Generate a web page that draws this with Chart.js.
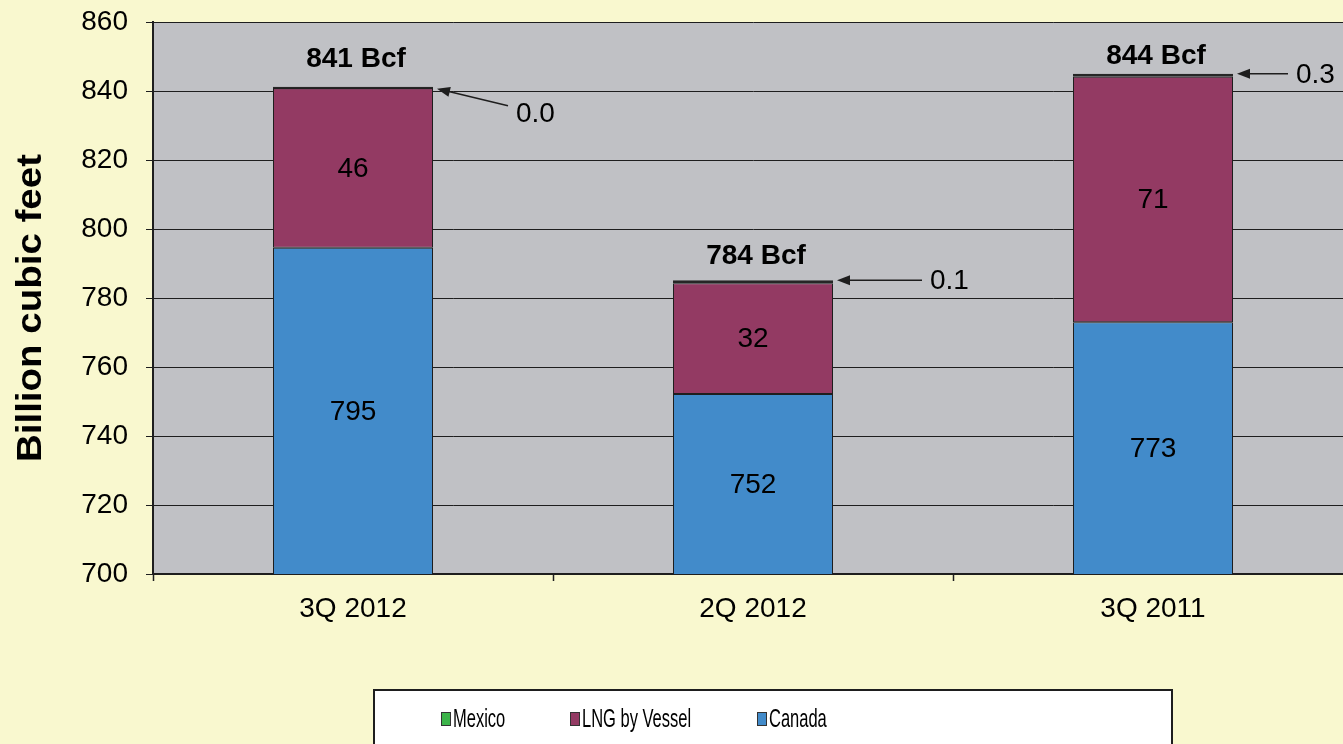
<!DOCTYPE html>
<html>
<head>
<meta charset="utf-8">
<script src="https://cdn.jsdelivr.net/npm/chart.js@4.4.1/dist/chart.umd.min.js"></script>
<style>
    html, body { margin: 0; padding: 0; overflow: hidden; background: #f9f8cf; }
    #wrap { width: 1353px; height: 744px; }
</style>
</head>
<body>
<div id="wrap"><canvas id="supplyChart" width="1353" height="744"></canvas></div>
<script>
// Datos (Bcf)
const categories = ['3Q 2012', '2Q 2012', '3Q 2011'];
const canada = [794.6, 752.2, 773.0];
const lngByVessel = [46.2, 32.1, 71.1];
const mexico = [0.0, 0.1, 0.3];
const yTicks = [700, 720, 740, 760, 780, 800, 820, 840, 860];

const FONT = '"Liberation Sans", Arial, sans-serif';
const INK = '#1e1e1e';

// Flechas de las etiquetas de México (desplazamiento desde la esquina del bar)
// y separación de la etiqueta del total
const mexicoCallouts = [
    { dx: 75, dy: 19, ty: 8, totalGap: 27 },
    { dx: 89, dy: 0, ty: 0, totalGap: 24 },
    { dx: 55, dy: 0, ty: 0, totalGap: 18 }
];

const legendItems = [
    { label: 'Mexico', color: '#3cb44a', x: 441 },
    { label: 'LNG by Vessel', color: '#933a63', x: 570 },
    { label: 'Canada', color: '#428bca', x: 757 }
];

const backgroundPlugin = {
    id: 'background',
    beforeDraw(chart) {
        const { ctx, chartArea: a } = chart;
        ctx.save();
        ctx.fillStyle = '#f9f8cf';
        ctx.fillRect(0, 0, chart.width, chart.height);
        ctx.fillStyle = '#c0c1c5';
        ctx.fillRect(a.left, a.top, a.right - a.left, a.bottom - a.top);
        ctx.restore();
    }
};

const labelsPlugin = {
    id: 'barLabels',
    afterDatasetsDraw(chart) {
        const ctx = chart.ctx;
        const bottom = chart.chartArea.bottom;
        ctx.save();
        ctx.fillStyle = '#000';
        ctx.textAlign = 'center';
        ctx.textBaseline = 'middle';
        ctx.font = '28px ' + FONT;
        [0, 1].forEach(di => {
            chart.getDatasetMeta(di).data.forEach((bar, i) => {
                const v = chart.data.datasets[di].data[i];
                const base = Math.min(bar.base, bottom);
                ctx.fillText(Math.round(v), bar.x, (bar.y + base) / 2 + 1);
            });
        });

        const top = chart.getDatasetMeta(2).data;
        top.forEach((bar, i) => {
            const c = mexicoCallouts[i];
            // total arriba
            const total = canada[i] + lngByVessel[i] + mexico[i];
            ctx.font = 'bold 28px ' + FONT;
            ctx.textAlign = 'center';
            ctx.fillText(Math.round(total) + ' Bcf', bar.x + 3, bar.y - c.totalGap);

            // flecha con valor de México
            const tipX = bar.x + bar.width / 2 + 4;
            const tipY = bar.y + (c.dy ? 2 : 0);
            const endX = bar.x + bar.width / 2 + c.dx;
            const endY = bar.y + c.dy;
            const ang = Math.atan2(tipY - endY, tipX - endX);
            ctx.strokeStyle = INK;
            ctx.lineWidth = 1.5;
            ctx.beginPath();
            ctx.moveTo(endX, endY);
            ctx.lineTo(tipX - 10 * Math.cos(ang), tipY - 10 * Math.sin(ang));
            ctx.stroke();
            ctx.fillStyle = INK;
            ctx.beginPath();
            ctx.moveTo(tipX, tipY);
            ctx.lineTo(tipX - 13 * Math.cos(ang) + 5 * Math.sin(ang), tipY - 13 * Math.sin(ang) - 5 * Math.cos(ang));
            ctx.lineTo(tipX - 13 * Math.cos(ang) - 5 * Math.sin(ang), tipY - 13 * Math.sin(ang) + 5 * Math.cos(ang));
            ctx.closePath();
            ctx.fill();
            ctx.fillStyle = '#000';
            ctx.font = '28px ' + FONT;
            ctx.textAlign = 'left';
            ctx.fillText(mexico[i].toFixed(1), endX + 8, endY + c.ty + 1);
        });
        ctx.restore();
    },
    afterDraw(chart) {
        const ctx = chart.ctx;
        ctx.save();
        // título del eje Y
        ctx.translate(31, 308);
        ctx.rotate(-Math.PI / 2);
        ctx.scale(1.1, 1);
        ctx.font = 'bold 35px ' + FONT;
        ctx.fillStyle = '#000';
        ctx.textAlign = 'center';
        ctx.textBaseline = 'middle';
        ctx.fillText('Billion cubic feet', 0, 0);
        ctx.restore();

        // leyenda en caja
        ctx.save();
        ctx.fillStyle = '#fff';
        ctx.fillRect(373, 689, 800, 80);
        ctx.strokeStyle = INK;
        ctx.lineWidth = 2;
        ctx.strokeRect(374, 690, 798, 80);
        legendItems.forEach(item => {
            ctx.fillStyle = item.color;
            ctx.fillRect(item.x, 712, 10, 14);
            ctx.strokeStyle = '#333';
            ctx.lineWidth = 1;
            ctx.strokeRect(item.x + 0.5, 712.5, 9, 13);
            ctx.save();
            ctx.translate(item.x + 12, 720);
            ctx.scale(0.66, 1);
            ctx.font = '25px ' + FONT;
            ctx.fillStyle = '#000';
            ctx.textBaseline = 'middle';
            ctx.fillText(item.label, 0, 0);
            ctx.restore();
        });
        ctx.restore();
    }
};

const ctx = document.getElementById('supplyChart').getContext('2d');
new Chart(ctx, {
    type: 'bar',
    data: {
        labels: categories,
        datasets: [
            {
                label: 'Canada',
                data: canada,
                backgroundColor: '#428bca',
                borderColor: INK,
                borderWidth: 1,
                borderSkipped: false
            },
            {
                label: 'LNG by Vessel',
                data: lngByVessel,
                backgroundColor: '#933a63',
                borderColor: INK,
                borderWidth: 1,
                borderSkipped: false
            },
            {
                label: 'Mexico',
                data: mexico,
                backgroundColor: '#3cb44a',
                borderColor: '#262626',
                borderWidth: 1.5,
                borderSkipped: false,
                minBarLength: 3
            }
        ]
    },
    options: {
        responsive: false,
        animation: false,
        datasets: {
            bar: {
                barPercentage: 1,
                categoryPercentage: 0.4
            }
        },
        layout: {
            padding: { top: 22, left: 0, right: 0, bottom: 0 }
        },
        plugins: {
            legend: { display: false },
            tooltip: { enabled: false }
        },
        scales: {
            x: {
                stacked: true,
                afterFit: (scale) => {
                    scale.height = 170;
                    scale.paddingLeft = 0;
                    scale.paddingRight = 0;
                },
                grid: {
                    offset: true,
                    drawOnChartArea: false,
                    tickLength: 7,
                    tickColor: INK,
                    tickWidth: 1.5
                },
                border: { color: INK, width: 2 },
                ticks: {
                    color: '#000',
                    padding: 11,
                    font: { family: FONT, size: 28 }
                }
            },
            y: {
                stacked: true,
                min: yTicks[0],
                max: yTicks[yTicks.length - 1],
                afterFit: (scale) => {
                    scale.width = 153;
                    scale.paddingTop = 0;
                    scale.paddingBottom = 0;
                },
                afterBuildTicks: (scale) => {
                    scale.ticks = yTicks.map(v => ({ value: v }));
                },
                grid: {
                    color: INK,
                    lineWidth: 1,
                    tickLength: 7,
                    tickColor: INK
                },
                border: { color: INK, width: 2 },
                ticks: {
                    color: '#000',
                    padding: 18,
                    font: { family: FONT, size: 28 }
                }
            }
        }
    },
    plugins: [backgroundPlugin, labelsPlugin]
});
</script>
</body>
</html>
